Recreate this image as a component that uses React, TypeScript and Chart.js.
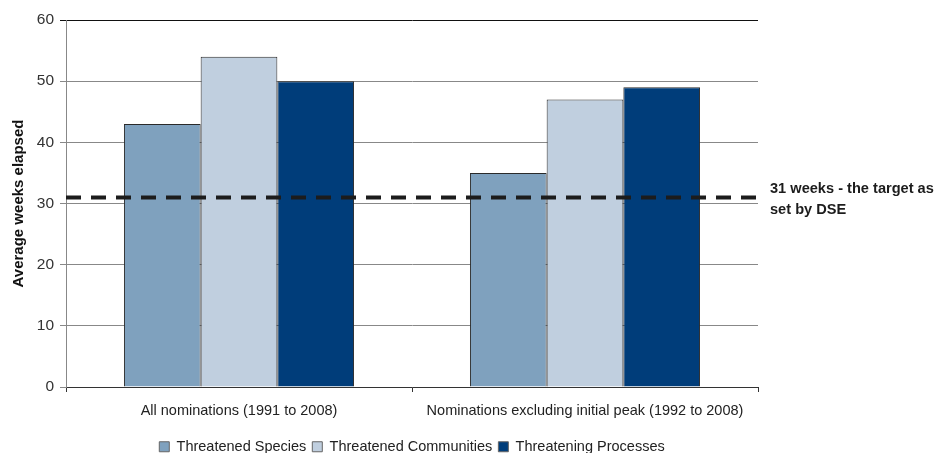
import React, { useEffect, useRef } from "react";
import { Chart, registerables } from "chart.js";

Chart.register(...registerables);

const categories = [
  "All nominations (1991 to 2008)",
  "Nominations excluding initial peak (1992 to 2008)",
];
const seriesNames = [
  "Threatened Species",
  "Threatened Communities",
  "Threatening Processes",
];
const speciesWeeks = [43, 35];
const communitiesWeeks = [54, 47];
const processesWeeks = [50, 49];
const seriesColors = ["#7FA1BE", "#C0CFDF", "#003D7A"];
const targetWeeks = 31;
const targetLabel = ["31 weeks - the target as", "set by DSE"];
const yTitle = "Average weeks elapsed";

const FONT = "'Liberation Sans', Arial, Helvetica, sans-serif";

const targetLinePlugin = {
  id: "targetLine",
  afterDatasetsDraw(chart: any) {
    const { ctx, chartArea, scales } = chart;
    const y = scales.y.getPixelForValue(targetWeeks);
    ctx.save();
    ctx.strokeStyle = "#1c1c1c";
    ctx.lineWidth = 4;
    ctx.setLineDash([15, 10]);
    ctx.beginPath();
    ctx.moveTo(chartArea.left, y);
    ctx.lineTo(chartArea.right, y);
    ctx.stroke();
    ctx.setLineDash([]);
    ctx.fillStyle = "#1c1c1c";
    ctx.font = `bold 14.6px ${FONT}`;
    ctx.textBaseline = "middle";
    ctx.textAlign = "left";
    ctx.fillText(targetLabel[0], chartArea.right + 12, y - 8);
    ctx.fillText(targetLabel[1], chartArea.right + 12, y + 13);
    ctx.restore();
  },
};

export default function App() {
  const canvasRef = useRef<HTMLCanvasElement | null>(null);

  useEffect(() => {
    if (!canvasRef.current) return;
    const chart = new Chart(canvasRef.current, {
      type: "bar",
      data: {
        labels: categories,
        datasets: [speciesWeeks, communitiesWeeks, processesWeeks].map(
          (values, i) => ({
            label: seriesNames[i],
            data: values,
            backgroundColor: seriesColors[i],
            borderColor: "#2a2a2a",
            borderWidth: 1,
            barPercentage: 1,
            categoryPercentage: 0.665,
          })
        ),
      },
      options: {
        animation: false,
        responsive: false,
        maintainAspectRatio: false,
        layout: { padding: { top: 20, right: 179, bottom: -11, left: 0 } },
        plugins: {
          tooltip: { enabled: false },
          legend: {
            position: "bottom",
            fullSize: false,
            labels: {
              boxWidth: 10,
              boxHeight: 10,
              padding: 6,
              color: "#222",
              font: { family: FONT, size: 14.5 },
              generateLabels: (c: any) =>
                c.data.datasets.map((d: any, i: number) => ({
                  text: d.label,
                  fillStyle: d.backgroundColor,
                  strokeStyle: "#666",
                  lineWidth: 1,
                  hidden: false,
                  datasetIndex: i,
                  fontColor: "#222",
                })),
            },
          },
        },
        scales: {
          x: {
            afterFit: (scale: any) => {
              scale.height = 46.5;
            },
            grid: {
              display: true,
              drawOnChartArea: false,
              offset: true,
              tickLength: 5,
              color: "#333",
            },
            border: { color: "#333", width: 1 },
            ticks: {
              padding: 10,
              color: "#222",
              font: { family: FONT, size: 14.5 },
            },
          },
          y: {
            min: 0,
            max: 60,
            afterFit: (scale: any) => {
              scale.width = 66;
            },
            ticks: {
              stepSize: 10,
              padding: 6,
              color: "#333",
              font: { family: FONT, size: 15.5 },
            },
            grid: {
              tickLength: 6,
              color: (ctx: any) =>
                ctx.tick && ctx.tick.value === 60 ? "#111" : "#888",
            },
            border: { color: "#888", width: 1 },
            title: {
              display: true,
              text: yTitle,
              color: "#111",
              font: { family: FONT, size: 15, weight: "bold" },
              padding: { top: 10, bottom: 0 },
            },
          },
        },
      },
      plugins: [targetLinePlugin],
    });
    return () => chart.destroy();
  }, []);

  return (
    <>
      <style>{`body{margin:0}`}</style>
      <div style={{ width: 937, height: 453 }}>
        <canvas ref={canvasRef} width={937} height={453} />
      </div>
    </>
  );
}
